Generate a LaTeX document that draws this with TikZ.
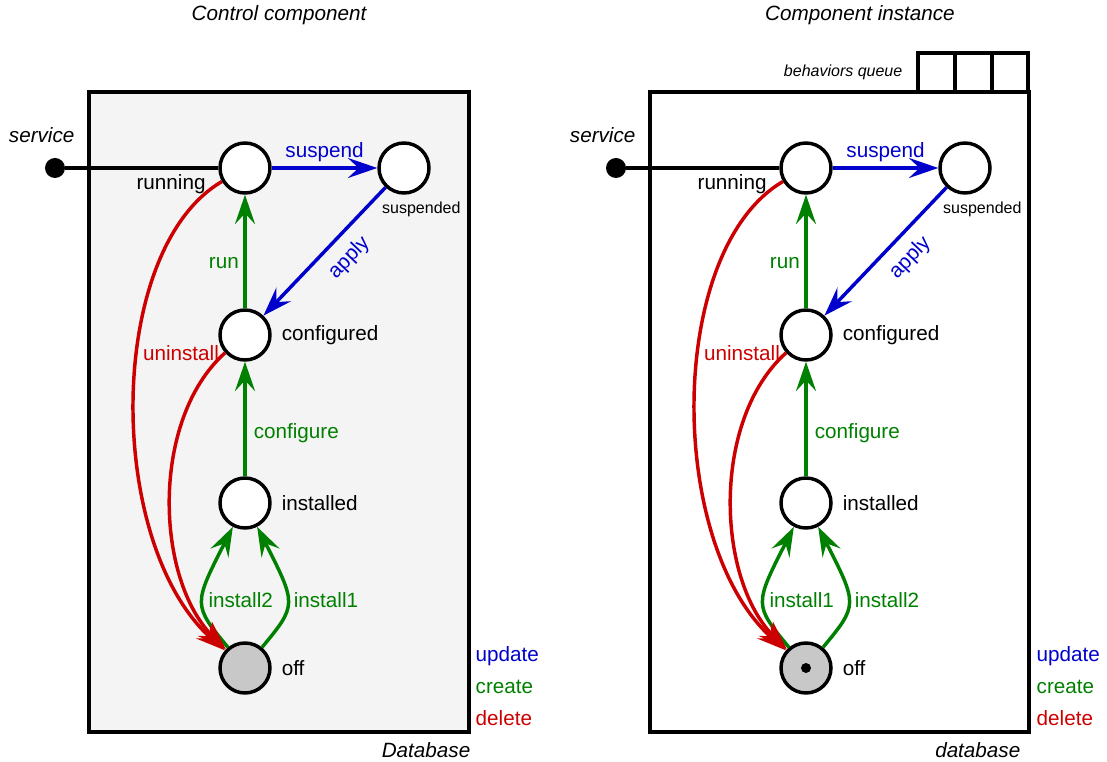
\documentclass[tikz,border=0pt]{standalone}
\usepackage{fontspec}
\setmainfont{Liberation Sans}
\usepackage{tikz}
\usetikzlibrary{shapes,arrows.meta,positioning,backgrounds}
\definecolor{upd}{RGB}{0, 0, 204}
\definecolor{crt}{RGB}{0, 128, 0}
\definecolor{del}{RGB}{204, 0, 0}
\definecolor{offgray}{RGB}{200, 200, 200}
\definecolor{dbgray}{RGB}{244, 244, 244}
\tikzstyle{state} = [circle, draw=black, line width=2.6pt, fill=white, minimum size=37.5pt, inner sep=0pt, on grid]
\tikzstyle{offstate} = [state, fill=offgray]
\tikzstyle{svcdot} = [circle, fill=black, minimum size=15pt, inner sep=0pt]
\tikzstyle{textonly} = [draw=none, fill=none, text centered, font=\fontsize{15.5}{18}\selectfont]
\tikzstyle{smalltext} = [textonly, font=\fontsize{12}{14}\selectfont]
\tikzstyle{ittext} = [textonly, font=\fontsize{15.5}{18}\selectfont\itshape]
\tikzstyle{dbbox} = [draw=black, line width=3.2pt]
\tikzstyle{tedge}  = [draw, line width=2.6pt, -{Stealth[length=22pt, width=15pt, inset=8pt]}]
\tikzstyle{updedge} = [tedge, draw=upd, text=upd]
\tikzstyle{createedge} = [tedge, draw=crt, text=crt]
\tikzstyle{deleteedge} = [tedge, draw=del, text=del]

\begin{document}
\begin{tikzpicture}[x=0.75pt, y=-0.75pt]
\useasboundingbox (0,0) rectangle (1107,762);

% control component =============================
\draw[dbbox, fill=dbgray] (89,92) rectangle (469,732);
\node[ittext] (ctitle) at (279,15) {Control component};

\node[state] (crun) at (245,168) {};
\node[state, right=119.25pt of crun] (csus) {};
\node[state, below=125.25pt of crun] (cconf) {};
\node[state, below=126pt of cconf] (cinst) {};
\node[offstate, below=123.75pt of cinst] (coff) {};

\node[textonly, left=6pt of crun, yshift=-12pt] (crunlbl) {running};
\node[smalltext, below=1.5pt of csus, xshift=13pt] (csuslbl) {suspended};
\node[textonly, right=4pt of cconf] (cconflbl) {configured};
\node[textonly, right=4pt of cinst] (cinstlbl) {installed};
\node[textonly, right=4pt of coff] (cofflbl) {off};

\node[svcdot] (csvc) at (55,168) {};
\node[ittext, above=8pt of csvc, xshift=-10pt] (csvclbl) {service};

% legend
\node[textonly, text=upd, anchor=west] (cupd) at (471,656) {update};
\node[textonly, text=crt, anchor=west] (ccrt) at (471,687) {create};
\node[textonly, text=del, anchor=west] (cdel) at (471,718) {delete};
\node[ittext, anchor=east] (cdb) at (475,750) {Database};

% edges
\draw[line width=3.2pt] (csvc) -- (crun);
\path[updedge] (crun) -- node[textonly, above] {suspend} (csus);
\path[updedge] (csus) -- node[textonly, pos=0.43, sloped, below=5pt] {apply} (cconf);
\path[createedge] (cconf) -- node[textonly, pos=0.4, left] {run} (crun);
\path[createedge] (cinst) -- node[textonly, pos=0.38, right, xshift=2pt] {configure} (cconf);
\path[createedge] (coff) .. controls (193,605) .. node[textonly, right] {install2} (cinst);
\path[createedge] (coff) .. controls (297,605) .. node[textonly, right] {install1} (cinst);
\path[deleteedge] (crun) .. controls (105,250) and (105,545) .. (coff);
\path[deleteedge] (cconf) .. controls (150,420) and (155,580) .. node[textonly, at start, left] {uninstall} (coff);

% component instance =============================
\begin{scope}[shift={(561,0)}]
\draw[dbbox, fill=white] (89,92) rectangle (468,732);
\draw[dbbox, fill=white] (357,53) rectangle (467,92);
\draw[dbbox] (394,53) -- (394,92);
\draw[dbbox] (431,53) -- (431,92);
\node[ittext] (ititle) at (299,15) {Component instance};
\node[smalltext, font=\fontsize{12}{14}\selectfont\itshape, anchor=east] (iqueue) at (346,72) {behaviors queue};

\node[state] (irun) at (245,168) {};
\node[state, right=119.25pt of irun] (isus) {};
\node[state, below=125.25pt of irun] (iconf) {};
\node[state, below=126pt of iconf] (iinst) {};
\node[offstate, below=123.75pt of iinst] (ioff) {};
\node[svcdot, minimum size=7.5pt] (ioffdot) at (ioff) {};

\node[textonly, left=6pt of irun, yshift=-12pt] (irunlbl) {running};
\node[smalltext, below=1.5pt of isus, xshift=13pt] (isuslbl) {suspended};
\node[textonly, right=4pt of iconf] (iconflbl) {configured};
\node[textonly, right=4pt of iinst] (iinstlbl) {installed};
\node[textonly, right=4pt of ioff] (iofflbl) {off};

\node[svcdot] (isvc) at (55,168) {};
\node[ittext, above=8pt of isvc, xshift=-10pt] (isvclbl) {service};

% legend
\node[textonly, text=upd, anchor=west] (iupd) at (471,656) {update};
\node[textonly, text=crt, anchor=west] (icrt) at (471,687) {create};
\node[textonly, text=del, anchor=west] (idel) at (471,718) {delete};
\node[ittext, anchor=east] (idb) at (464,750) {database};

% edges
\draw[line width=3.2pt] (isvc) -- (irun);
\path[updedge] (irun) -- node[textonly, above] {suspend} (isus);
\path[updedge] (isus) -- node[textonly, pos=0.43, sloped, below=5pt] {apply} (iconf);
\path[createedge] (iconf) -- node[textonly, pos=0.4, left] {run} (irun);
\path[createedge] (iinst) -- node[textonly, pos=0.38, right, xshift=2pt] {configure} (iconf);
\path[createedge] (ioff) .. controls (193,605) .. node[textonly, right] {install1} (iinst);
\path[createedge] (ioff) .. controls (297,605) .. node[textonly, right] {install2} (iinst);
\path[deleteedge] (irun) .. controls (105,250) and (105,545) .. (ioff);
\path[deleteedge] (iconf) .. controls (150,420) and (155,580) .. node[textonly, at start, left] {uninstall} (ioff);
\end{scope}

\end{tikzpicture}
\end{document}
